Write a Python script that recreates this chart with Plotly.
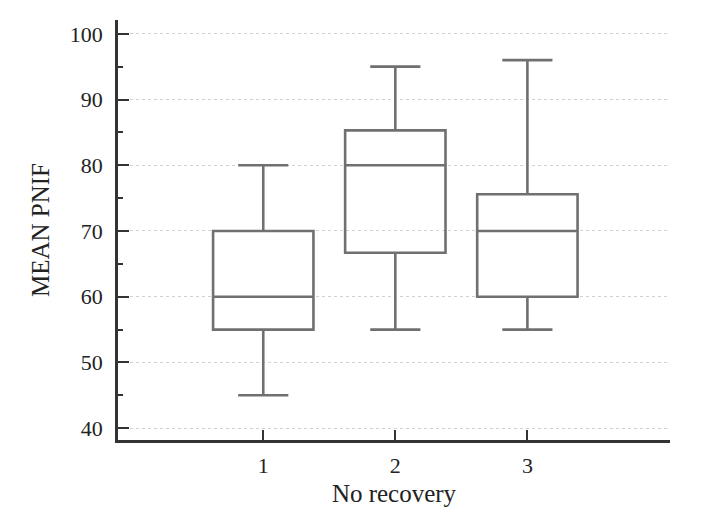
import plotly.graph_objects as go

# box summaries
groups = [1, 2, 3]
lower = [45, 55, 55]
q1 = [55, 66.7, 60]
median = [60, 80, 70]
q3 = [70, 85.3, 75.6]
upper = [80, 95, 96]

fig = go.Figure()
for i, g in enumerate(groups):
    fig.add_trace(go.Box(
        x=[g], q1=[q1[i]], median=[median[i]], q3=[q3[i]],
        lowerfence=[lower[i]], upperfence=[upper[i]],
        width=0.76, whiskerwidth=0.5,
        line=dict(color="#707070", width=2.6),
        fillcolor="rgba(255,255,255,0)",
        boxpoints=False, showlegend=False, hoverinfo="skip",
    ))

tick_font = dict(family="Liberation Serif", size=22, color="#222")
title_font = dict(family="Liberation Serif", size=25, color="#222")

# page body has an 8px margin, so the margins below are shifted for it
fig.update_layout(
    width=705, height=523,
    margin=dict(l=110, r=43, t=12, b=91),
    plot_bgcolor="white", paper_bgcolor="white",
    font=tick_font,
    xaxis=dict(
        range=[-0.1, 4.08], tickvals=groups, ticktext=[str(g) for g in groups],
        ticks="inside", ticklen=10, tickwidth=2, tickcolor="#333",
        showline=True, linecolor="#333", linewidth=2.5,
        showgrid=False, zeroline=False,
        title=dict(text="No recovery", font=title_font, standoff=8),
        tickfont=tick_font, ticklabelstandoff=4,
    ),
    yaxis=dict(
        range=[38.2, 102.1], tickvals=[40, 50, 60, 70, 80, 90, 100],
        ticks="inside", ticklen=11, tickwidth=2, tickcolor="#333",
        showline=True, linecolor="#333", linewidth=2.5,
        showgrid=True, gridcolor="#d2d2d2", gridwidth=0.6, griddash="dot",
        zeroline=False,
        minor=dict(dtick=5, tick0=0, ticks="inside", ticklen=5, tickwidth=2,
                   tickcolor="#333", showgrid=False),
        title=dict(text="MEAN PNIF", font=title_font, standoff=14),
        tickfont=tick_font, ticklabelstandoff=8,
    ),
)

fig.write_html("out.html")
